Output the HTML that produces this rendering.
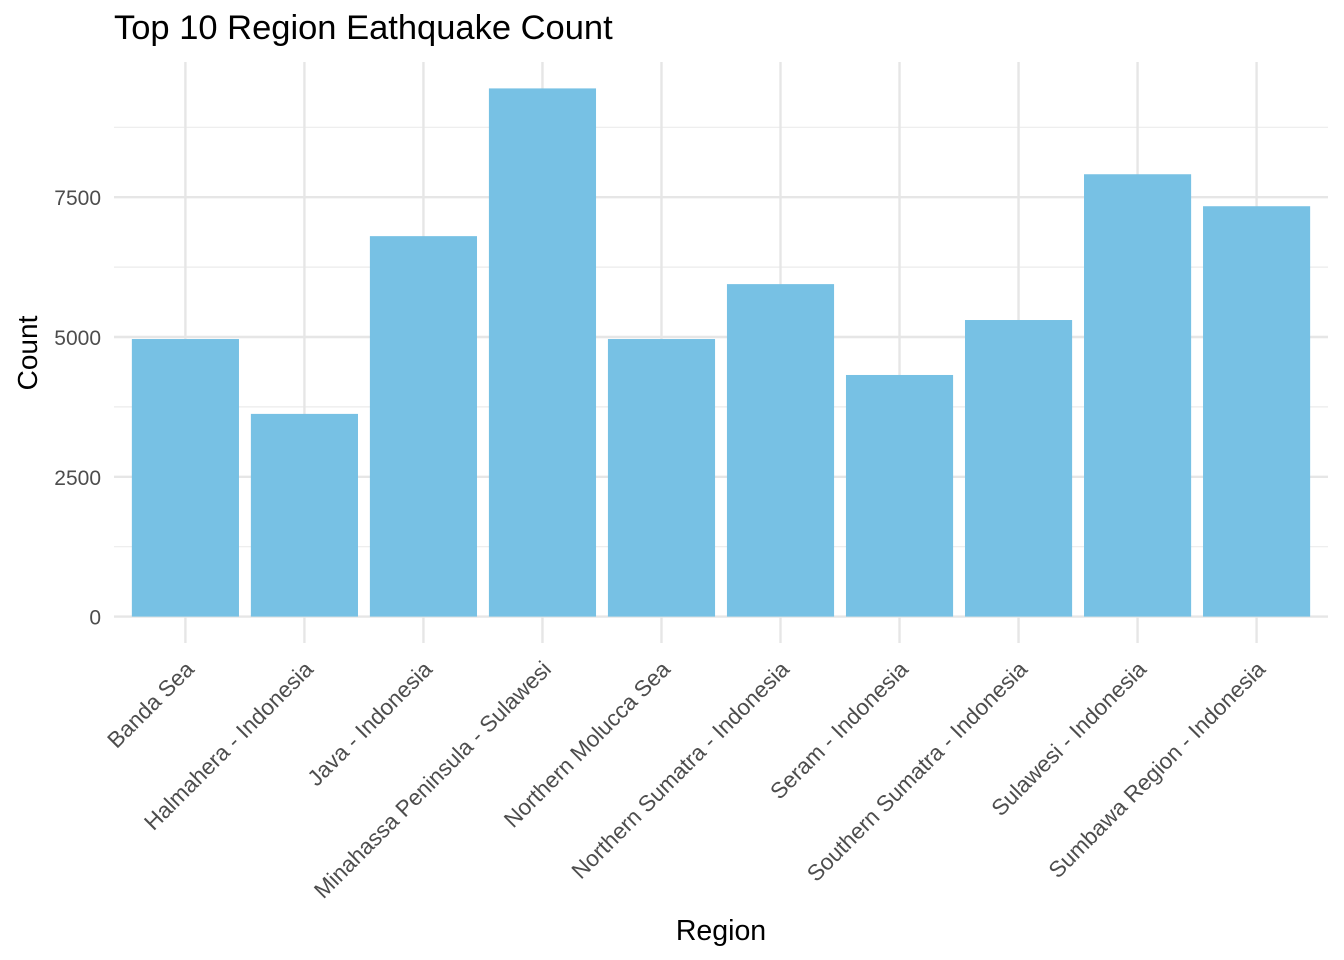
<!DOCTYPE html>
<html><head><meta charset="utf-8"><style>
body{margin:0;background:#fff}
svg{font-family:"Liberation Sans",Arial,sans-serif;display:block}
</style></head><body>
<svg id="chart" width="1344" height="960" viewBox="0 0 1344 960">
<text x="114" y="39" font-size="34.5" fill="#000">Top 10 Region Eathquake Count</text>
<g id="grid"></g>
<g id="bars"></g>
<g id="ylabels"></g>
<g id="xlabels"></g>
<text transform="translate(37,353) rotate(-90)" text-anchor="middle" font-size="28" fill="#000">Count</text>
<text x="721" y="940" text-anchor="middle" font-size="28.5" fill="#000">Region</text>
</svg>
<script>
const categories=["Banda Sea","Halmahera - Indonesia","Java - Indonesia","Minahassa Peninsula - Sulawesi","Northern Molucca Sea","Northern Sumatra - Indonesia","Seram - Indonesia","Southern Sumatra - Indonesia","Sulawesi - Indonesia","Sumbawa Region - Indonesia"];
const counts=[4964,3625,6804,9446,4964,5946,4321,5304,7911,7339];
const yTicks=[0,2500,5000,7500];
const yMinor=[1250,3750,6250,8750];
const NS="http://www.w3.org/2000/svg";
const pLeft=114,pRight=1328,pTop=62,pBottom=643;
const maxV=Math.max(...counts);
const lo=-0.05*maxV,hi=1.05*maxV;
const yS=v=>pBottom-(v-lo)/(hi-lo)*(pBottom-pTop);
const step=(pRight-pLeft)/(categories.length+0.2);
const xS=i=>pLeft+step*(0.6+i);
const bw=step*0.9;
function mk(t,a,p){const e=document.createElementNS(NS,t);for(const k in a)e.setAttribute(k,a[k]);p.appendChild(e);return e;}
const grid=document.getElementById('grid');
yMinor.forEach(v=>{const l=mk('line',{x1:pLeft,x2:pRight,y1:yS(v),y2:yS(v),stroke:'#ebebeb','stroke-width':1.2},grid);

});
yTicks.forEach(v=>{const l=mk('line',{x1:pLeft,x2:pRight,y1:yS(v),y2:yS(v),stroke:'#e6e6e6','stroke-width':2.4},grid);


const t=mk('text',{x:101,y:yS(v)+8,'text-anchor':'end','font-size':21,fill:'#4d4d4d'},document.getElementById('ylabels'));
t.textContent=v;

});
categories.forEach((c,i)=>{const l=mk('line',{x1:xS(i),x2:xS(i),y1:pTop,y2:pBottom,stroke:'#e6e6e6','stroke-width':2.4},grid);

});
const bars=document.getElementById('bars');
counts.forEach((v,i)=>{const r=mk('rect',{x:xS(i)-bw/2,y:yS(v),width:bw,height:yS(0)-yS(v),fill:'#77c1e4'},bars);

});
categories.forEach((c,i)=>{const t=mk('text',{'text-anchor':'end','font-size':22.5,fill:'#4d4d4d',transform:`translate(${xS(i)+10},${yS(0)+54}) rotate(-45)`},document.getElementById('xlabels'));
t.textContent=c;

});
</script>
</body></html>
